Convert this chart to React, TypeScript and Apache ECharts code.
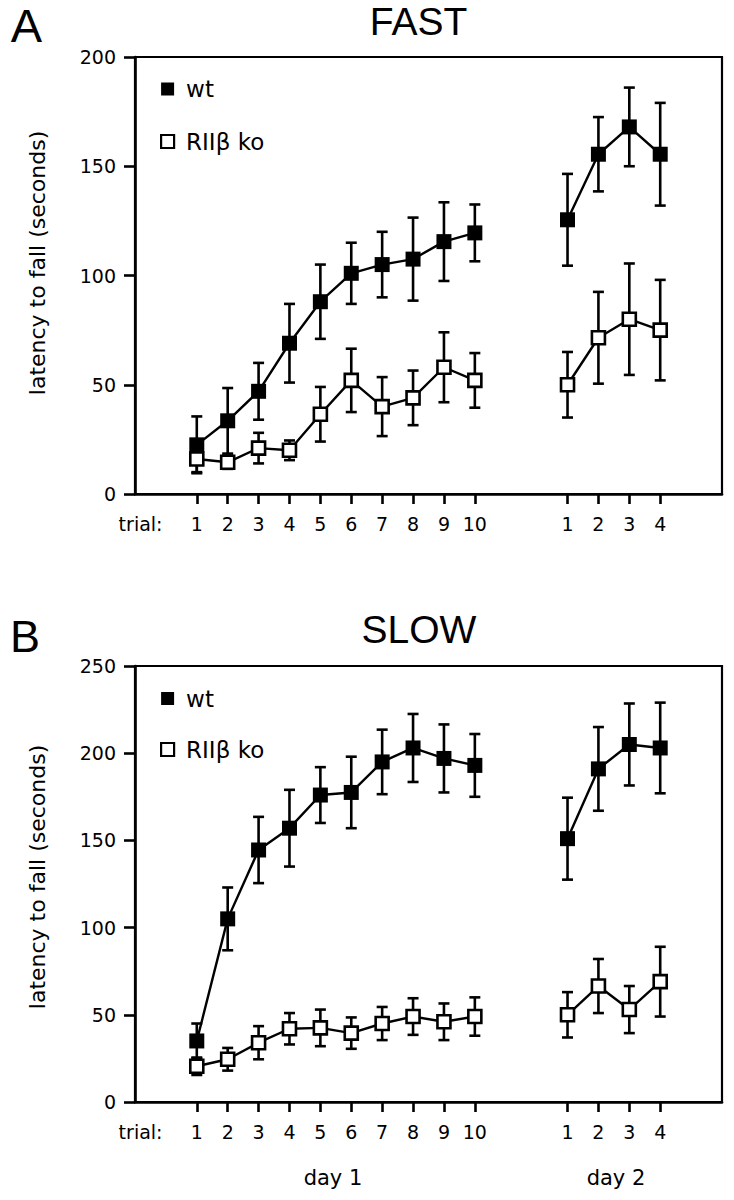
import React, { useEffect, useRef } from "react";
import * as echarts from "echarts";

// ---- data ----
const day1Trials = [1, 2, 3, 4, 5, 6, 7, 8, 9, 10];
const day2Trials = [1, 2, 3, 4];
const DAY2_OFFSET = 12; // axis position of day-2 trial n is n + 12
const TRIAL_LABEL_POS = -0.82;

const fastWtMean = [22.5, 33.5, 47, 69, 88, 101, 105, 107.5, 115.5, 119.5, 125.5, 155.5, 168, 155.5];
const fastWtErr = [13, 15, 13, 18, 17, 14, 15, 19, 18, 13, 21, 17, 18, 23.5];
const fastKoMean = [16, 14.5, 21, 20, 36.5, 52, 40, 44, 58, 52, 50, 71.5, 80, 75];
const fastKoErr = [6, 3, 7, 4.5, 12.5, 14.5, 13.5, 12.5, 16, 12.5, 15, 21, 25.5, 23];

const slowWtMean = [35, 105, 144.5, 157, 176, 177.5, 195, 203, 197, 193, 151, 191, 205, 203];
const slowWtErr = [10, 18, 19, 22, 16, 20.5, 18.5, 19.5, 19.5, 18, 23.5, 24, 23.5, 26];
const slowKoMean = [20.5, 24.5, 34, 42, 42.5, 39.5, 45, 49, 46, 49, 50, 66.5, 53, 69];
const slowKoErr = [5, 6.5, 9.5, 9, 10.5, 9, 9.5, 10.5, 10.5, 11, 13, 15.5, 13.5, 20];

const fastYTicks = [0, 50, 100, 150, 200];
const slowYTicks = [0, 50, 100, 150, 200, 250];

const seriesNames = ["wt", "RIIβ ko"];
const panelTitles = ["FAST", "SLOW"];
const panelLetters = ["A", "B"];
const dayLabels = ["day 1", "day 2"];
const yAxisName = "latency to fall (seconds)";

// ---- helpers ----
const SMALL_FONT = "DejaVu Sans";
const BIG_FONT = "Liberation Sans";
const positions = [...day1Trials, ...day2Trials.map((t) => t + DAY2_OFFSET)];

function pts(means: number[], from: number, to: number) {
  return positions.slice(from, to).map((x, i) => [x, means[from + i]]);
}

function errData(means: number[], errs: number[]) {
  return positions.map((x, i) => [x, means[i], errs[i]]);
}

function errorSeries(name: string, idx: number, means: number[], errs: number[], z: number) {
  return {
    type: "custom",
    name: name + " err",
    xAxisIndex: idx,
    yAxisIndex: idx,
    z,
    silent: true,
    encode: { x: 0, y: 1 },
    data: errData(means, errs),
    renderItem: (params: any, api: any) => {
      const x = api.value(0);
      const m = api.value(1);
      const e = api.value(2);
      const top = api.coord([x, m + e]);
      const bot = api.coord([x, m - e]);
      const cap = 5.5;
      const st = { stroke: "#000", lineWidth: 2.6 };
      return {
        type: "group",
        children: [
          { type: "line", shape: { x1: top[0], y1: top[1], x2: bot[0], y2: bot[1] }, style: st },
          { type: "line", shape: { x1: top[0] - cap, y1: top[1], x2: top[0] + cap, y2: top[1] }, style: st },
          { type: "line", shape: { x1: bot[0] - cap, y1: bot[1], x2: bot[0] + cap, y2: bot[1] }, style: st },
        ],
      };
    },
  };
}

function lineSeries(name: string, idx: number, data: number[][], filled: boolean) {
  return {
    type: "line",
    name,
    xAxisIndex: idx,
    yAxisIndex: idx,
    z: filled ? 3 : 4,
    silent: true,
    symbol: "rect",
    symbolSize: filled ? 15 : 13,
    data,
    lineStyle: { color: "#000", width: 2.4 },
    itemStyle: filled
      ? { color: "#000", borderColor: "#000", borderWidth: 0 }
      : { color: "#fff", borderColor: "#000", borderWidth: 2.6 },
  };
}

function panel(idx: number, wtM: number[], wtE: number[], koM: number[], koE: number[]) {
  return [
    errorSeries("wt", idx, wtM, wtE, 2),
    errorSeries("ko", idx, koM, koE, 2),
    lineSeries(seriesNames[0], idx, pts(wtM, 0, 10), true),
    lineSeries(seriesNames[0], idx, pts(wtM, 10, 14), true),
    lineSeries(seriesNames[1], idx, pts(koM, 0, 10), false),
    lineSeries(seriesNames[1], idx, pts(koM, 10, 14), false),
  ];
}

function xAxis(idx: number) {
  return {
    type: "value",
    gridIndex: idx,
    min: -1,
    max: 18,
    splitLine: { show: false },
    axisLine: { onZero: false, lineStyle: { color: "#000", width: 2.6 } },
    axisTick: {
      show: true,
      length: 10,
      customValues: positions,
      lineStyle: { color: "#000", width: 2.6 },
    },
    axisLabel: {
      customValues: [TRIAL_LABEL_POS, ...positions],
      margin: 20,
      color: "#000",
      fontFamily: SMALL_FONT,
      fontSize: 19,
      formatter: (v: number) =>
        Math.abs(v - TRIAL_LABEL_POS) < 1e-6 ? "trial:" : String(v > 10 ? v - DAY2_OFFSET : v),
    },
  };
}

function yAxis(idx: number, ticks: number[]) {
  return {
    type: "value",
    gridIndex: idx,
    min: ticks[0],
    max: ticks[ticks.length - 1],
    interval: ticks[1] - ticks[0],
    splitLine: { show: false },
    axisLine: { show: true, onZero: false, lineStyle: { color: "#000", width: 2.6 } },
    axisTick: { show: true, length: 11, lineStyle: { color: "#000", width: 2.6 } },
    axisLabel: { margin: 19, color: "#000", fontFamily: SMALL_FONT, fontSize: 19 },
  };
}

function legend(top: number, gap: number) {
  return {
    orient: "vertical",
    left: 160,
    top,
    padding: 0,
    itemGap: gap,
    itemWidth: 13,
    itemHeight: 13,
    icon: "rect",
    selectedMode: false,
    textStyle: { color: "#000", fontFamily: SMALL_FONT, fontSize: 23, lineHeight: 22, padding: [0, 0, 0, 7] },
    data: [
      { name: seriesNames[0], itemStyle: { color: "#000", borderWidth: 0 } },
      { name: seriesNames[1], itemStyle: { color: "#fff", borderColor: "#000", borderWidth: 2.2 } },
    ],
  };
}

function txt(text: string, x: number, y: number, size: number, family: string, rotation = 0) {
  return {
    type: "text",
    x,
    y,
    rotation,
    silent: true,
    style: {
      text,
      fill: "#000",
      fontSize: size,
      fontFamily: family,
      align: "center",
      verticalAlign: "middle",
      textAlign: "center",
      textVerticalAlign: "middle",
    },
  };
}

export default function App() {
  const ref = useRef<HTMLDivElement>(null);
  useEffect(() => {
    if (!ref.current) return;
    const chart = echarts.init(ref.current, null, { renderer: "svg" });
    chart.setOption({
      animation: false,
      backgroundColor: "#fff",
      grid: [
        { left: 135, top: 57, width: 587, height: 437, show: true, borderColor: "#000", borderWidth: 2.2, backgroundColor: "transparent" },
        { left: 135, top: 666, width: 587, height: 436, show: true, borderColor: "#000", borderWidth: 2.2, backgroundColor: "transparent" },
      ],
      xAxis: [xAxis(0), xAxis(1)],
      yAxis: [yAxis(0, fastYTicks), yAxis(1, slowYTicks)],
      legend: [legend(77.5, 29.5), legend(687, 28)],
      series: [
        ...panel(0, fastWtMean, fastWtErr, fastKoMean, fastKoErr),
        ...panel(1, slowWtMean, slowWtErr, slowKoMean, slowKoErr),
      ],
      graphic: [
        txt(panelLetters[0], 26.5, 25, 47, BIG_FONT),
        txt(panelLetters[1], 25, 636, 45, BIG_FONT),
        txt(panelTitles[0], 418.5, 21, 39, BIG_FONT),
        txt(panelTitles[1], 419, 629, 39, BIG_FONT),
        txt(yAxisName, 37, 263, 22, SMALL_FONT, Math.PI / 2),
        txt(yAxisName, 37, 877, 22, SMALL_FONT, Math.PI / 2),
        txt(dayLabels[0], 333, 1178, 21, SMALL_FONT),
        txt(dayLabels[1], 616, 1178, 21, SMALL_FONT),
      ],
    });
    return () => chart.dispose();
  }, []);
  return (
    <div
      ref={ref}
      style={{ position: "absolute", left: 0, top: 0, width: 734, height: 1200, background: "#fff" }}
    />
  );
}
